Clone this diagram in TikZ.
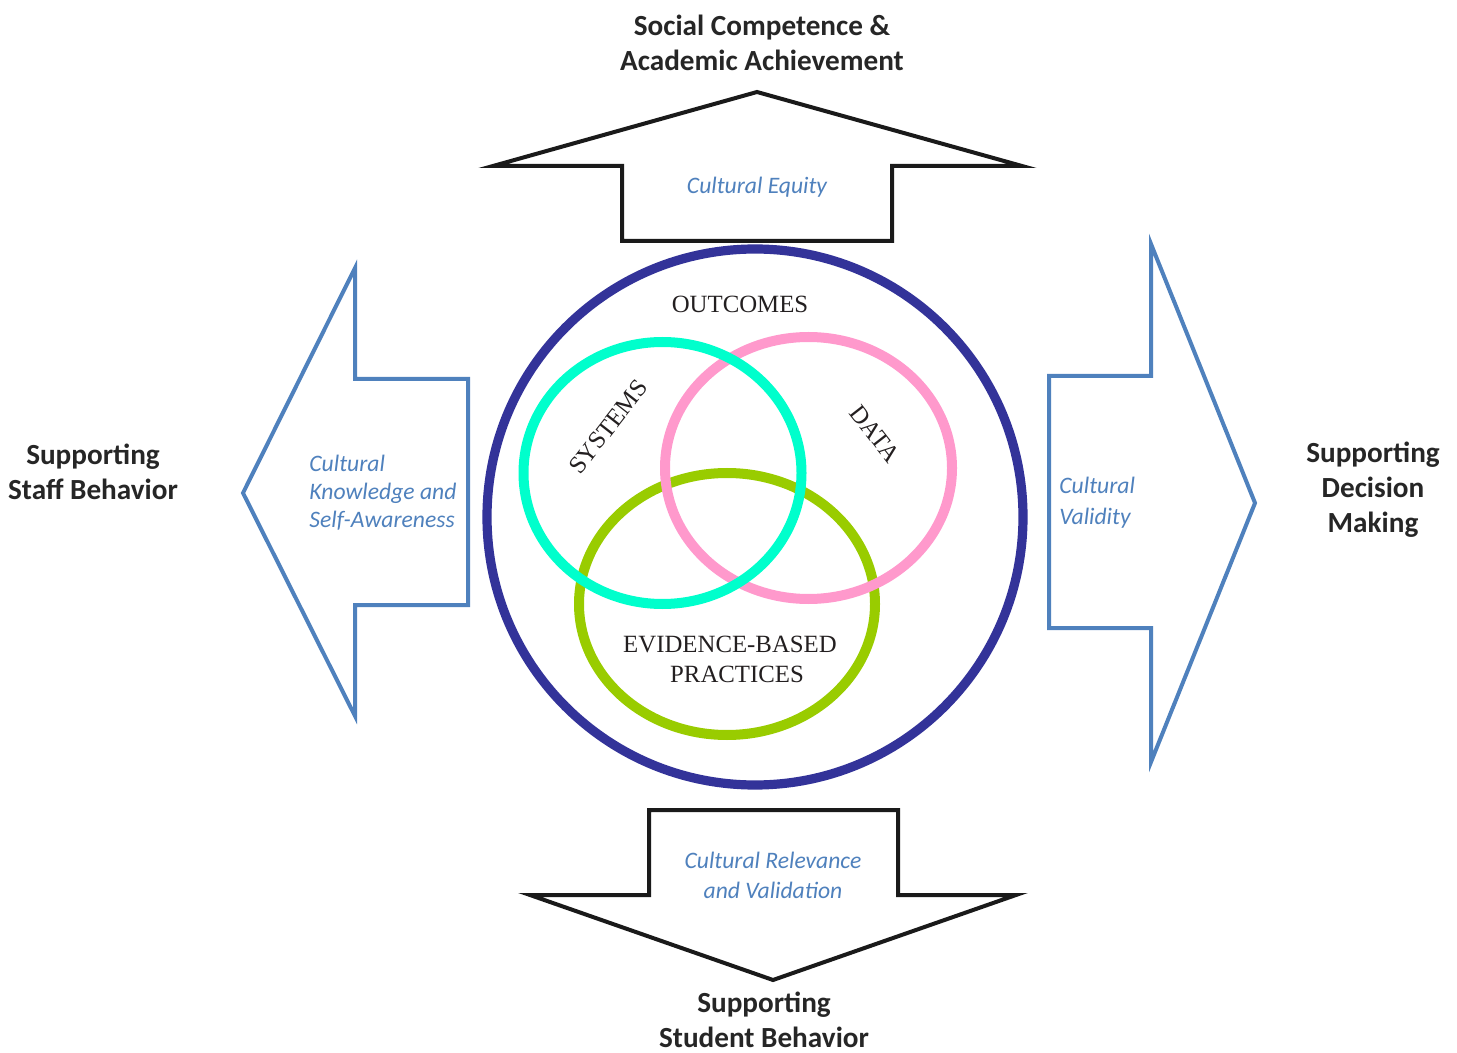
\documentclass[tikz,border=0pt]{standalone}
\usepackage{fontspec}
\setmainfont{Liberation Serif}
\newfontfamily\calfont{Carlito}
\definecolor{arrowblack}{HTML}{1A1A1A}
\definecolor{arrowblue}{HTML}{4F81BD}
\definecolor{headgray}{HTML}{262626}
\definecolor{termgray}{HTML}{231F20}
\definecolor{ringnavy}{HTML}{333399}
\definecolor{ringcyan}{HTML}{00FFCC}
\definecolor{ringpink}{HTML}{FF99CC}
\definecolor{ringgreen}{HTML}{99CC00}
\begin{document}
\begin{tikzpicture}[x=0.5pt,y=-0.5pt,
  darkarrow/.style={draw=arrowblack, line width=2pt, line join=miter, fill=white},
  bluearrow/.style={draw=arrowblue, line width=2pt, line join=miter, fill=white},
  ring/.style={line width=5pt},
  heading/.style={font=\calfont\bfseries\fontsize{14.6}{17.5}\selectfont, text=headgray, align=center, inner sep=0pt},
  value/.style={font=\calfont\itshape\fontsize{11.8}{14}\selectfont, text=arrowblue, inner sep=0pt},
  term/.style={font=\fontsize{12.4}{15}\selectfont, text=termgray, inner sep=0pt}]

  % canvas
  \useasboundingbox (0,0) rectangle (1457,1053);

  % block arrows
  \draw[darkarrow] (757,92) -- (1022,166) -- (892,166) -- (892,241) -- (622,241)
    -- (622,166) -- (493,166) -- cycle;
  \draw[darkarrow] (649,810) -- (898,810) -- (898,895) -- (1016,895) -- (773,980)
    -- (530,895) -- (649,895) -- cycle;
  \draw[bluearrow] (243,493) -- (355,268) -- (355,379) -- (468,379) -- (468,605)
    -- (355,605) -- (355,716) -- cycle;
  \draw[bluearrow] (1255,503) -- (1151,762) -- (1151,628) -- (1049,628) -- (1049,376)
    -- (1151,376) -- (1151,244) -- cycle;

  % outer ring and the three overlapping rings
  \draw[ring, draw=ringnavy, line width=4.6pt] (755,517) circle [radius=268];
  \draw[ring, draw=ringgreen] (727,604) ellipse [x radius=148, y radius=131];
  \draw[ring, draw=ringpink] (808.5,468) ellipse [x radius=143.5, y radius=131];
  \draw[ring, draw=ringcyan] (662.5,473) ellipse [x radius=139, y radius=131];

  % ring labels
  \node[term, anchor=base] (outcomes) at (740,313) {OUTCOMES};
  \node[term, anchor=base] (ebp1) at (730,652) {EVIDENCE-BASED};
  \node[term, anchor=base] (ebp2) at (737,682) {PRACTICES};
  \node[term, rotate=52] (systems) at (608,427) {SYSTEMS};
  \node[term, rotate=-52] (data) at (875,434) {DATA};

  % labels inside the arrows
  \node[value, align=center] (equity) at (757,187) {Cultural Equity};
  \node[value, align=center] (relevance) at (773,875) {Cultural Relevance\\[1pt]and Validation};
  \node[value, align=left, anchor=west] (knowledge) at (309,493)
    {Cultural\\Knowledge and\\Self-Awareness};
  \node[value, align=left, anchor=west] (validity) at (1059,503) {Cultural\\[1.5pt]Validity};

  % outer headings
  \node[heading] (outcome) at (762,43) {Social Competence \&\\Academic Achievement};
  \node[heading] (staff) at (93,472) {Supporting\\Staff Behavior};
  \node[heading] (decision) at (1373,490) {Supporting\\Decision\\Making};
  \node[heading] (student) at (764,1020) {Supporting\\Student Behavior};
\end{tikzpicture}
\end{document}
